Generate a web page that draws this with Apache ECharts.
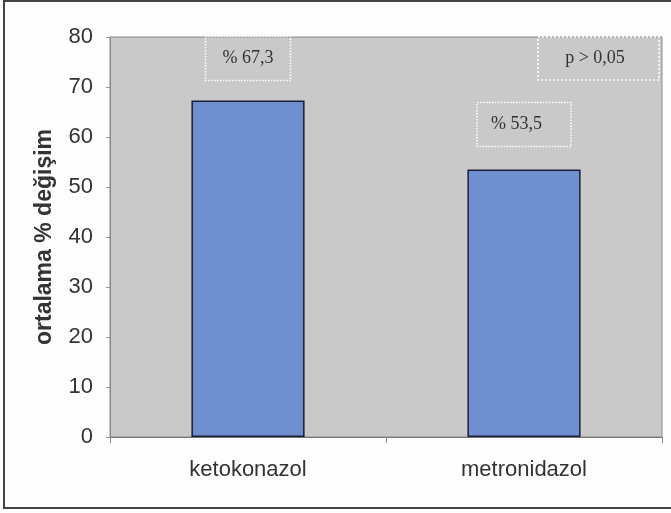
<!DOCTYPE html>
<html><head><meta charset="utf-8">
<style>html,body{margin:0;padding:0;background:#fdfdfd;}#c{width:671px;height:513px;}</style>
<script src="https://cdn.jsdelivr.net/npm/echarts@6/dist/echarts.min.js"></script>
</head><body><div id="c"></div>
<script>
const categories = ['ketokonazol', 'metronidazol'];
const values = [67.3, 53.5];
const yTicks = [0, 10, 20, 30, 40, 50, 60, 70, 80];
const yName = 'ortalama % değişim';
const note = 'p > 0,05';

const labelPads = [[13, 17, 13, 17], [13, 29, 13, 14]];
const labelDist = [20, 23];

const chart = echarts.init(document.getElementById('c'));
chart.setOption({
  animation: false,
  backgroundColor: '#fdfdfd',
  grid: { left: 110, top: 37, right: 9, bottom: 76, show: true, backgroundColor: '#c9c9c9', borderColor: '#8a8a8a', borderWidth: 1 },
  xAxis: {
    type: 'category', data: categories,
    axisLine: { lineStyle: { color: '#777', width: 1 } },
    axisTick: { show: true, length: 6, lineStyle: { color: '#888' } },
    axisLabel: { color: '#333', fontFamily: 'Liberation Sans, Arial', fontSize: 22, margin: 22 }
  },
  yAxis: {
    type: 'value', min: yTicks[0], max: yTicks[yTicks.length - 1], interval: 10,
    name: yName, nameLocation: 'middle', nameGap: 54, nameRotate: 90,
    nameTextStyle: { color: '#333', fontFamily: 'Liberation Sans, Arial', fontSize: 23, fontWeight: 'bold' },
    axisLine: { show: true, lineStyle: { color: '#888' } },
    axisTick: { show: true, length: 4, lineStyle: { color: '#999' } },
    splitLine: { show: false },
    axisLabel: { color: '#333', fontFamily: 'Liberation Sans, Arial', fontSize: 22, margin: 17 }
  },
  series: [{
    type: 'bar', barWidth: '41%',
    data: values.map((v, i) => ({ value: v, label: { padding: labelPads[i], distance: labelDist[i] } })),
    itemStyle: { color: '#6f8fd0', borderColor: '#1c1c38', borderWidth: 1.5 },
    label: {
      show: true, position: 'top',
      formatter: p => '% ' + String(p.value).replace('.', ','),
      fontFamily: 'Liberation Serif, Times New Roman', fontSize: 18, color: '#333',
      borderColor: '#fff', borderType: 'dotted', borderWidth: 1.5
    }
  }],
  graphic: [
    { type: 'rect', shape: { x: 4, y: 1, width: 672, height: 507 }, style: { fill: 'none', stroke: '#444', lineWidth: 2 }, z: 100 },
    { type: 'rect', shape: { x: 538, y: 37, width: 121, height: 43 }, style: { fill: 'none', stroke: '#fff', lineWidth: 1.5, lineDash: [2, 2] }, z: 100 },
    { type: 'text', x: 595, y: 58, style: { text: note, fill: '#333', font: '18px "Liberation Serif", "Times New Roman"', textAlign: 'center', textVerticalAlign: 'middle' }, z: 100 }
  ]
});
</script></body></html>
